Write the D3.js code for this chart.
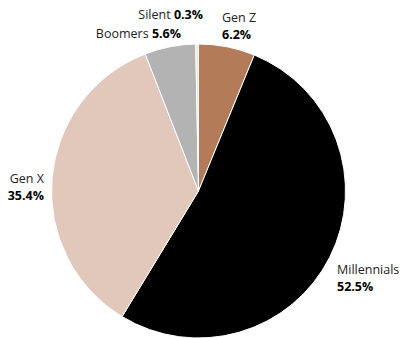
<!DOCTYPE html>
<html>
<head>
<meta charset="utf-8">
<script src="https://cdn.jsdelivr.net/npm/d3@7"></script>
<style>
  html, body { margin: 0; padding: 0; background: #fff; }
  svg { display: block; }
  text { font-family: "Open Sans", "Noto Sans", sans-serif; font-size: 12.5px; fill: #222; }
  .val { font-weight: 700; fill: #000; }
</style>
</head>
<body>
<svg id="chart" width="404" height="338"></svg>
<script>
const categories = ["Gen Z", "Millennials", "Gen X", "Boomers", "Silent"];
const values = [6.2, 52.5, 35.4, 5.6, 0.3];
const colors = ["#b47b58", "#000000", "#e1c8ba", "#b3b3b3", "#efe3dc"];

// label layout (styling, not data)
const labelLayout = {
  "Gen Z":       { x: 222, y: 22, anchor: "start", twoLine: true },
  "Millennials": { x: 337, y: 274, anchor: "start", twoLine: true },
  "Gen X":       { x: 44,  y: 183, anchor: "end", twoLine: true },
  "Boomers":     { x: 181, y: 38, anchor: "end", twoLine: false },
  "Silent":      { x: 203, y: 19, anchor: "end", twoLine: false }
};

const svg = d3.select("#chart");
const cx = 198.5, cy = 191, r = 147;

const data = categories.map((c, i) => ({ name: c, value: values[i], color: colors[i] }));
const pie = d3.pie().value(d => d.value).sort(null);
const arc = d3.arc().innerRadius(0).outerRadius(r);

const g = svg.append("g").attr("transform", `translate(${cx},${cy})`);
g.selectAll("path")
  .data(pie(data))
  .join("path")
  .attr("d", arc)
  .attr("fill", d => d.data.color)
  .attr("stroke", "#fff")
  .attr("stroke-width", 1);

data.forEach(d => {
  const L = labelLayout[d.name];
  if (L.twoLine) {
    svg.append("text")
      .attr("x", L.x).attr("y", L.y)
      .attr("text-anchor", L.anchor)
      .text(d.name);
    svg.append("text")
      .attr("class", "val")
      .attr("x", L.x).attr("y", L.y + 17)
      .attr("text-anchor", L.anchor)
      .text(d.value.toFixed(1) + "%");
  } else {
    const t = svg.append("text")
      .attr("x", L.x).attr("y", L.y)
      .attr("text-anchor", L.anchor);
    t.append("tspan").text(d.name + " ");
    t.append("tspan").attr("class", "val").text(d.value.toFixed(1) + "%");
  }
});
</script>
</body>
</html>
